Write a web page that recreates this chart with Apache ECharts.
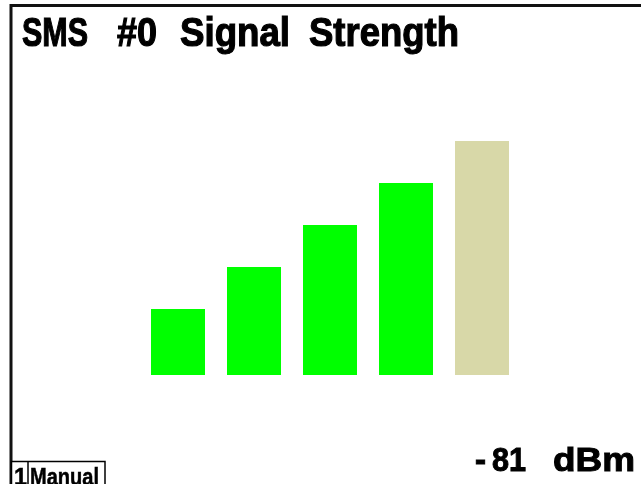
<!DOCTYPE html>
<html>
<head>
<meta charset="utf-8">
<script src="https://cdn.jsdelivr.net/npm/echarts@6/dist/echarts.min.js"></script>
<style>
  html, body { margin: 0; padding: 0; background: #fff; }
  #chart { width: 641px; height: 484px; }
</style>
</head>
<body>
<div id="chart"></div>
<script>
// signal level bars
var categories = ['1', '2', '3', '4', '5']
var barHeights = [66, 108, 150, 192, 234]
var barColors = ['#00ff00', '#00ff00', '#00ff00', '#00ff00', '#d8d8a8']
var titleWords = ['SMS', '#0', 'Signal', 'Strength']
var readingWords = ['-', '81', 'dBm']
var channelText = '1'
var modeText = 'Manual'

var fontFam = '"Liberation Sans", Arial, sans-serif'
var measureCtx = document.createElement('canvas').getContext('2d')

// squeeze a word into a given box so it looks like the narrow instrument font
function word(text, left, width, baseline, size, heavy) {
  var font = 'bold ' + size + 'px ' + fontFam
  measureCtx.font = font
  var w = measureCtx.measureText(text).width
  return {
    type: 'text',
    x: left,
    y: Math.round(baseline - 0.85 * size),
    scaleX: width / w,
    style: {
      text: text,
      fill: '#000',
      stroke: '#000',
      lineWidth: heavy || 0,
      font: font,
      align: 'left',
      verticalAlign: 'top'
    }
  }
}

var chart = echarts.init(document.getElementById('chart'))

var titleBoxes = [[22, 66], [117, 40], [180, 110], [309, 150]]
var readingBoxes = [[475, 11], [492, 34], [553, 82]]

var graphics = [
  // outer frame
  {
    type: 'polyline',
    shape: { points: [[11, 484], [11, 5.5], [641, 5.5]] },
    style: { stroke: '#111', lineWidth: 3, fill: null }
  },
  {
    type: 'rect',
    shape: { x: 11.5, y: 461.5, width: 93.5, height: 30 },
    style: { stroke: '#000', lineWidth: 1.5, fill: '#fff' }
  },
  {
    type: 'line',
    shape: { x1: 28, y1: 462, x2: 28, y2: 484 },
    style: { stroke: '#000', lineWidth: 1.5 }
  },
  word(channelText, 14, 13, 486, 24, 0.5),
  word(modeText, 30, 69, 486, 24, 0.5)
]
titleWords.forEach(function(t, i) {
  graphics.push(word(t, titleBoxes[i][0], titleBoxes[i][1], 49, 41, 1.2))
})
readingWords.forEach(function(t, i) {
  graphics.push(word(t, readingBoxes[i][0], readingBoxes[i][1], 474, 34, 1))
})

chart.setOption({
  backgroundColor: '#fff',
  animation: false,
  grid: {
    left: 140,
    width: 380,
    top: 141,
    height: 234
  },
  xAxis: {
    type: 'category',
    data: categories,
    show: false
  },
  yAxis: {
    type: 'value',
    min: 0,
    max: 234,
    show: false
  },
  series: [{
    type: 'bar',
    barWidth: 54,
    data: barHeights.map(function(v, i) {
      return { value: v, itemStyle: { color: barColors[i] } }
    })
  }],
  graphic: graphics
})
</script>
</body>
</html>
